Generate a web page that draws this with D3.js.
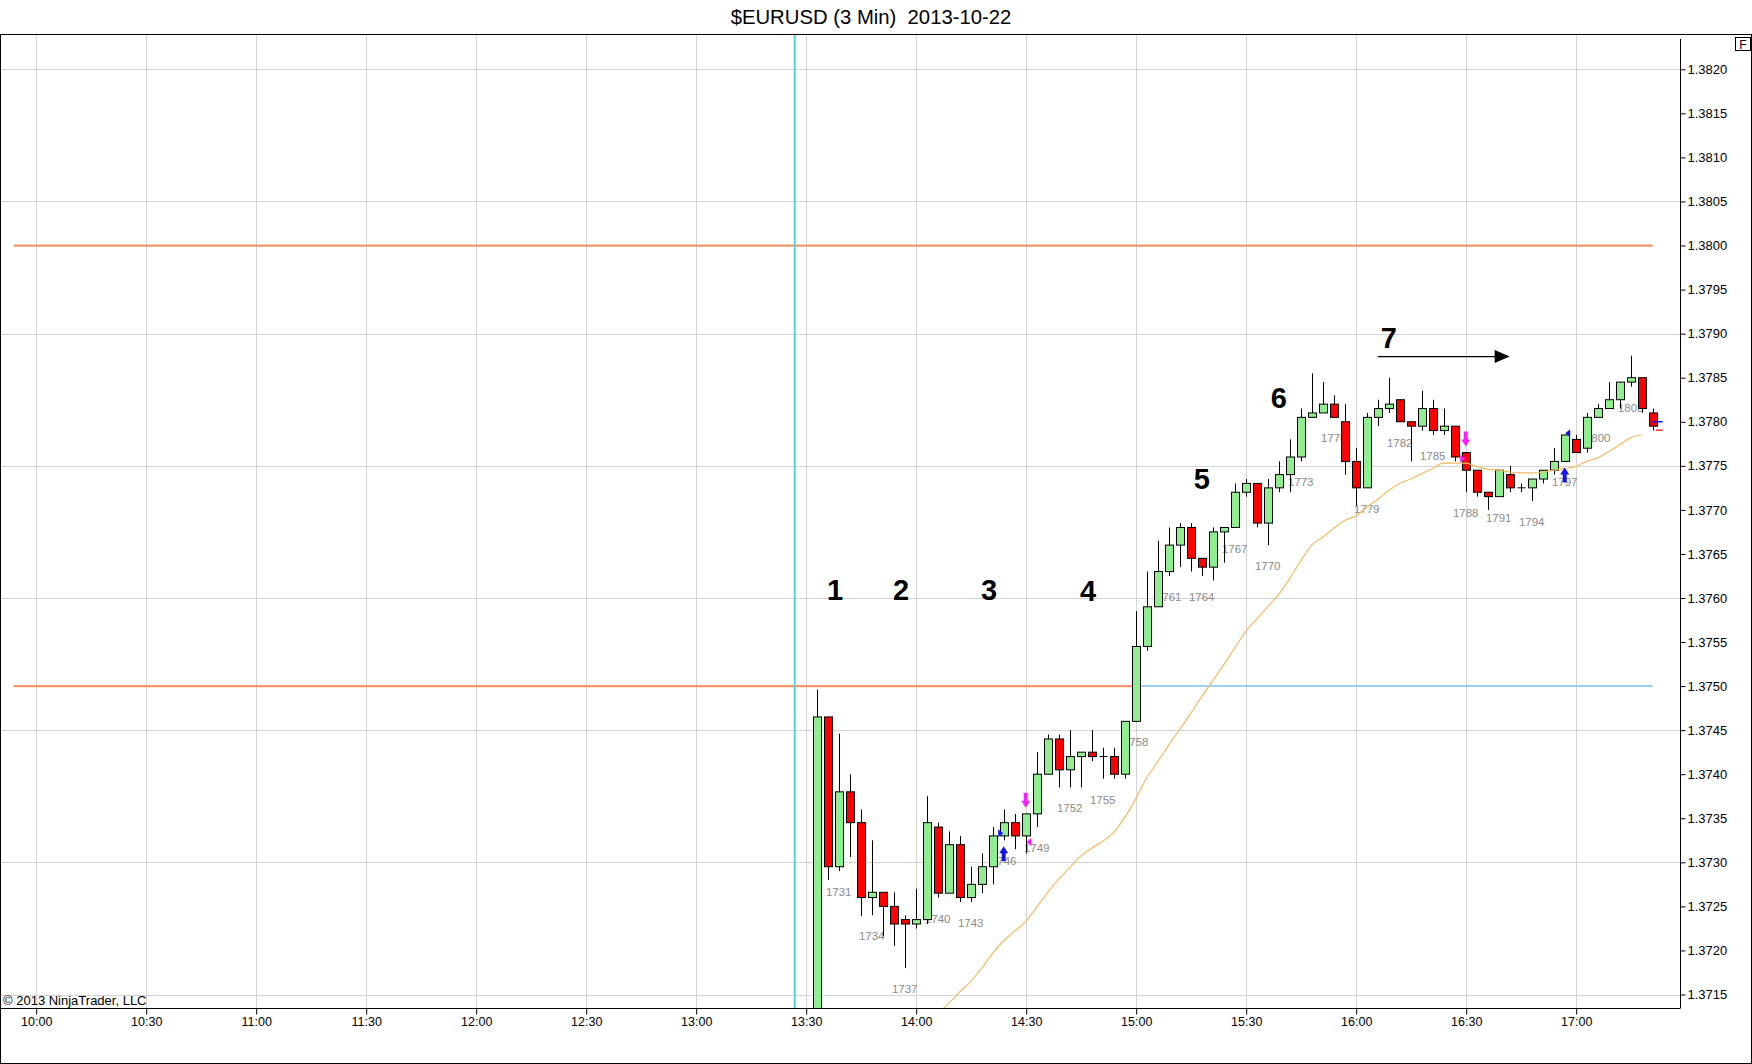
<!DOCTYPE html>
<html>
<head>
<meta charset="utf-8">
<script src="https://cdn.jsdelivr.net/npm/d3@7"></script>
<style>
  body { margin: 0; background: #fff; }
  svg { display: block; font-family: "Liberation Sans", Arial, sans-serif; }
</style>
</head>
<body>
<div class="chart"></div>
<script>
let width = 1752
let height = 1064

let bar_times = ['13:33','13:36','13:39','13:42','13:45','13:48','13:51','13:54','13:57','14:00',
                 '14:03','14:06','14:09','14:12','14:15','14:18','14:21','14:24','14:27','14:30',
                 '14:33','14:36','14:39','14:42','14:45','14:48','14:51','14:54','14:57','15:00',
                 '15:03','15:06','15:09','15:12','15:15','15:18','15:21','15:24','15:27','15:30',
                 '15:33','15:36','15:39','15:42','15:45','15:48','15:51','15:54','15:57','16:00',
                 '16:03','16:06','16:09','16:12','16:15','16:18','16:21','16:24','16:27','16:30',
                 '16:33','16:36','16:39','16:42','16:45','16:48','16:51','16:54','16:57','17:00',
                 '17:03','17:06','17:09','17:12','17:15','17:18','17:21']

let opens  = [1.37100,1.37465,1.37295,1.37380,1.37345,1.37260,1.37266,1.37250,1.37235,1.37230,
              1.37235,1.37340,1.37265,1.37320,1.37260,1.37275,1.37295,1.37330,1.37345,1.37330,
              1.37355,1.37400,1.37440,1.37405,1.37420,1.37425,1.37420,1.37420,1.37400,1.37460,
              1.37545,1.37590,1.37630,1.37660,1.37680,1.37645,1.37635,1.37675,1.37680,1.37720,
              1.37730,1.37685,1.37725,1.37740,1.37760,1.37805,1.37810,1.37820,1.37800,1.37755,
              1.37725,1.37805,1.37815,1.37825,1.37800,1.37795,1.37815,1.37790,1.37795,1.37765,
              1.37745,1.37720,1.37715,1.37740,1.37725,1.37725,1.37735,1.37745,1.37755,1.37780,
              1.37770,1.37805,1.37815,1.37825,1.37845,1.37850,1.37810]
let highs  = [1.37496,1.37465,1.37446,1.37400,1.37360,1.37325,1.37266,1.37266,1.37240,1.37270,
              1.37375,1.37345,1.37335,1.37330,1.37295,1.37310,1.37340,1.37360,1.37355,1.37355,
              1.37425,1.37445,1.37445,1.37450,1.37425,1.37450,1.37430,1.37430,1.37460,1.37585,
              1.37630,1.37665,1.37680,1.37685,1.37685,1.37645,1.37680,1.37680,1.37730,1.37735,
              1.37730,1.37735,1.37755,1.37780,1.37815,1.37855,1.37845,1.37830,1.37820,1.37770,
              1.37810,1.37825,1.37850,1.37825,1.37800,1.37835,1.37825,1.37815,1.37795,1.37765,
              1.37745,1.37720,1.37745,1.37750,1.37730,1.37735,1.37745,1.37770,1.37785,1.37785,
              1.37810,1.37820,1.37845,1.37845,1.37875,1.37850,1.37815]
let lows   = [1.37080,1.37280,1.37290,1.37306,1.37239,1.37240,1.37216,1.37205,1.37180,1.37225,
              1.37230,1.37260,1.37265,1.37255,1.37255,1.37265,1.37275,1.37325,1.37315,1.37310,
              1.37340,1.37400,1.37385,1.37385,1.37385,1.37415,1.37395,1.37395,1.37395,1.37460,
              1.37540,1.37590,1.37625,1.37635,1.37630,1.37625,1.37620,1.37640,1.37680,1.37715,
              1.37680,1.37660,1.37720,1.37720,1.37755,1.37805,1.37810,1.37805,1.37740,1.37705,
              1.37725,1.37795,1.37810,1.37800,1.37755,1.37790,1.37785,1.37785,1.37755,1.37720,
              1.37715,1.37700,1.37715,1.37720,1.37720,1.37710,1.37730,1.37740,1.37755,1.37765,
              1.37765,1.37805,1.37815,1.37815,1.37840,1.37810,1.37790]
let closes = [1.37465,1.37295,1.37380,1.37345,1.37260,1.37266,1.37250,1.37230,1.37230,1.37235,
              1.37345,1.37265,1.37320,1.37260,1.37275,1.37295,1.37330,1.37345,1.37330,1.37355,
              1.37400,1.37440,1.37405,1.37420,1.37425,1.37420,1.37420,1.37400,1.37460,1.37545,
              1.37590,1.37630,1.37660,1.37680,1.37645,1.37635,1.37675,1.37680,1.37720,1.37730,
              1.37685,1.37725,1.37740,1.37760,1.37805,1.37810,1.37820,1.37805,1.37755,1.37725,
              1.37805,1.37815,1.37820,1.37800,1.37795,1.37815,1.37790,1.37795,1.37760,1.37745,
              1.37720,1.37715,1.37745,1.37725,1.37725,1.37735,1.37745,1.37755,1.37785,1.37765,
              1.37805,1.37815,1.37825,1.37845,1.37850,1.37815,1.37795]

// moving average, one value per bar (null = not drawn)
let ema = [null,null,null,null,null,null,null,null,null,1.37103,
           1.37115,1.37128,1.37140,1.37153,1.37165,1.37180,1.37197,1.37211,1.37222,1.37233,
           1.37249,1.37266,1.37281,1.37294,1.37307,1.37316,1.37324,1.37334,1.37351,1.37372,
           1.37396,1.37414,1.37433,1.37451,1.37469,1.37488,1.37506,1.37524,1.37543,1.37562,
           1.37576,1.37590,1.37604,1.37622,1.37642,1.37660,1.37669,1.37679,1.37688,1.37693,
           1.37703,1.37712,1.37722,1.37730,1.37735,1.37741,1.37747,1.37753,1.37753,1.37753,
           1.37749,1.37746,1.37745,1.37743,1.37742,1.37742,1.37743,1.37745,1.37747,1.37749,
           1.37755,1.37759,1.37766,1.37774,1.37782,1.37785,null]

let bar_numbers = ['1731','1734','1737','1740','1743','1746','1749','1752','1755','1758','1761','1764','1767',
                   '1770','1773','1776','1779','1782','1785','1788','1791','1794','1797','1800','1803']
let bar_number_times = ['13:39','13:48','13:57','14:06','14:15','14:24','14:33','14:42','14:51','15:00','15:09','15:18','15:27',
                        '15:36','15:45','15:54','16:03','16:12','16:21','16:30','16:39','16:48','16:57','17:06','17:15']

let level_prices = [1.3800, 1.3750, 1.3750]
let level_from   = ['09:54', '09:54', '15:00']
let level_to     = ['17:21', '15:00', '17:21']
let level_colors = ['#f5966a', '#f5966a', '#7cc0f0']

let session_line_time = '13:27'

let note_labels = ['1', '2', '3', '4', '5', '6', '7']
let note_times  = ['13:38', '13:56', '14:20', '14:47', '15:18', '15:39', '16:09']
let note_prices = [1.37610, 1.37609, 1.37609, 1.37608, 1.37735, 1.37828, 1.37895]
let note_arrow  = {from: '16:06', to: '16:42', price: 1.37874}

let buy_arrow_times  = ['14:24', '16:57']
let sell_arrow_times = ['14:30', '16:30']
let fill_times  = ['14:24', '14:30', '16:30', '16:57']
let fill_prices = [1.37333, 1.37323, 1.37758, 1.37787]
let fill_dirs   = ['right', 'left', 'right', 'left']
let fill_colors = ['#1414f0', '#ff20ff', '#ff20ff', '#1414f0']

let bid_price = 1.37800
let ask_price = 1.37795

function toMin(s) {
    let [h, m] = s.split(':')
    return +h * 60 + +m
}

let plotLeft = 0, plotRight = 1680.5, plotTop = 34, plotBottom = 1008

let x = d3.scaleLinear()
    .domain([600, 1020])
    .range([35.7, 1575.7])

let y = d3.scaleLinear()
    .domain([1.3715, 1.3820])
    .range([994.5, 69.3])

let bars = bar_times.map((t, i) => ({t: toMin(t), o: opens[i], h: highs[i], l: lows[i], c: closes[i], ema: ema[i]}))
let barAt = new Map(bars.map(b => [b.t, b]))

let svg = d3.create("svg")
    .attr("width", width)
    .attr("height", height)
    .attr("viewBox", [0, 0, width, height])

svg.append("rect").attr("width", width).attr("height", height).attr("fill", "white")

svg.append("defs").append("clipPath").attr("id", "plot")
    .append("rect")
    .attr("x", plotLeft).attr("y", plotTop)
    .attr("width", plotRight - plotLeft).attr("height", plotBottom - plotTop)

// title
svg.append("text")
    .attr("x", 871)
    .attr("y", 23.5)
    .attr("text-anchor", "middle")
    .attr("font-size", 20.3)
    .style("white-space", "pre")
    .text("$EURUSD (3 Min)  2013-10-22")

let plot = svg.append("g").attr("clip-path", "url(#plot)")

// grid
let vgrid = d3.range(600, 1021, 30)
let hgrid = d3.range(0, 8).map(k => +(1.3820 - k * 0.0015).toFixed(4))

plot.append("g")
    .selectAll("line")
    .data(vgrid)
    .join("line")
    .attr("x1", d => Math.round(x(d)) + 0.5)
    .attr("x2", d => Math.round(x(d)) + 0.5)
    .attr("y1", plotTop)
    .attr("y2", plotBottom)
    .attr("stroke", "#d4d4d4")

plot.append("g")
    .selectAll("line")
    .data(hgrid)
    .join("line")
    .attr("x1", plotLeft)
    .attr("x2", plotRight)
    .attr("y1", d => Math.round(y(d)) + 0.5)
    .attr("y2", d => Math.round(y(d)) + 0.5)
    .attr("stroke", "#d4d4d4")

// price levels
plot.append("g")
    .selectAll("line")
    .data(level_prices)
    .join("line")
    .attr("x1", (d, i) => x(toMin(level_from[i])))
    .attr("x2", (d, i) => x(toMin(level_to[i])))
    .attr("y1", d => y(d))
    .attr("y2", d => y(d))
    .attr("stroke", (d, i) => level_colors[i])
    .attr("stroke-width", (d, i) => i == 2 ? 1.5 : 2.2)

// session start line
plot.append("line")
    .attr("x1", x(toMin(session_line_time)))
    .attr("x2", x(toMin(session_line_time)))
    .attr("y1", plotTop)
    .attr("y2", plotBottom)
    .attr("stroke", "#48d8e4")
    .attr("stroke-width", 2)

// bar numbers under lows
plot.append("g")
    .attr("font-size", 11.5)
    .attr("fill", "#8a8a8a")
    .attr("text-anchor", "middle")
    .selectAll("text")
    .data(bar_numbers)
    .join("text")
    .attr("x", (d, i) => x(toMin(bar_number_times[i])))
    .attr("y", (d, i) => y(barAt.get(toMin(bar_number_times[i])).l) + 21)
    .attr("dy", "0.35em")
    .text(d => d)

// candles
let candle = plot.append("g")
    .selectAll("g")
    .data(bars)
    .join("g")
    .attr("transform", d => `translate(${Math.round(x(d.t)) + 0.5},0)`)

candle.append("line")
    .attr("y1", d => y(d.h))
    .attr("y2", d => y(d.l))
    .attr("stroke", "black")

candle.filter(d => d.o != d.c).append("rect")
    .attr("x", -4)
    .attr("width", 8)
    .attr("y", d => y(Math.max(d.o, d.c)))
    .attr("height", d => Math.abs(y(d.o) - y(d.c)))
    .attr("fill", d => d.c > d.o ? "#90ee90" : "#ff0000")
    .attr("stroke", "black")

candle.filter(d => d.o == d.c).append("line")
    .attr("x1", -4)
    .attr("x2", 4)
    .attr("y1", d => y(d.c))
    .attr("y2", d => y(d.c))
    .attr("stroke", "black")

// moving average
plot.append("path")
    .datum(bars.filter(d => d.ema != null))
    .attr("fill", "none")
    .attr("stroke", "#f4bb62")
    .attr("stroke-width", 1.2)
    .attr("d", d3.line().x(d => x(d.t)).y(d => y(d.ema)).curve(d3.curveMonotoneX))

// signal arrows
let arrowShape = "M-2,0 L-2,-8 L-4.5,-8 L0,-15 L4.5,-8 L2,-8 L2,0 Z"

plot.append("g")
    .selectAll("path")
    .data(buy_arrow_times)
    .join("path")
    .attr("transform", d => `translate(${x(toMin(d))},${y(barAt.get(toMin(d)).l) + 21})`)
    .attr("d", arrowShape)
    .attr("fill", "#1414f0")

plot.append("g")
    .selectAll("path")
    .data(sell_arrow_times)
    .join("path")
    .attr("transform", d => `translate(${x(toMin(d))},${y(barAt.get(toMin(d)).h) - 21}) rotate(180)`)
    .attr("d", arrowShape)
    .attr("fill", "#ff20ff")

// fill markers
plot.append("g")
    .selectAll("path")
    .data(fill_prices)
    .join("path")
    .attr("transform", (d, i) => `translate(${x(toMin(fill_times[i])) + (fill_dirs[i] == 'right' ? -3 : 3)},${y(d)})`)
    .attr("d", (d, i) => fill_dirs[i] == 'right' ? "M-2.5,-4 L2.5,0 L-2.5,4 Z" : "M2.5,-4 L-2.5,0 L2.5,4 Z")
    .attr("fill", (d, i) => fill_colors[i])

// bid / ask ticks at last bar
let lastX = x(bars[bars.length - 1].t)
plot.append("line")
    .attr("x1", lastX - 1).attr("x2", lastX + 10)
    .attr("y1", y(bid_price)).attr("y2", y(bid_price))
    .attr("stroke", "#1414f0").attr("stroke-width", 1.3)
plot.append("line")
    .attr("x1", lastX + 3).attr("x2", lastX + 10)
    .attr("y1", y(ask_price) + 4).attr("y2", y(ask_price) + 4)
    .attr("stroke", "#ff0000").attr("stroke-width", 1.3)

// numbered notes
plot.append("g")
    .attr("font-size", 29)
    .attr("font-weight", "bold")
    .attr("text-anchor", "middle")
    .selectAll("text")
    .data(note_labels)
    .join("text")
    .attr("x", (d, i) => x(toMin(note_times[i])))
    .attr("y", (d, i) => y(note_prices[i]))
    .attr("dy", "0.36em")
    .text(d => d)

let ax1 = x(toMin(note_arrow.from)), ax2 = x(toMin(note_arrow.to)), ay = y(note_arrow.price)
plot.append("line")
    .attr("x1", ax1).attr("x2", ax2 - 12)
    .attr("y1", ay).attr("y2", ay)
    .attr("stroke", "black").attr("stroke-width", 1.2)
plot.append("path")
    .attr("d", `M${ax2 - 15},${ay - 6.5} L${ax2},${ay} L${ax2 - 15},${ay + 6.5} Z`)
    .attr("fill", "black")

svg.append("text")
    .attr("x", 3)
    .attr("y", 1004.5)
    .attr("font-size", 13)
    .text("© 2013 NinjaTrader, LLC")

// axes
let xAxis = d3.axisBottom(x)
    .tickValues(vgrid)
    .tickSize(6)
    .tickPadding(3)
    .tickFormat(m => `${Math.floor(m / 60)}:${String(m % 60).padStart(2, '0')}`)

let xg = svg.append("g")
    .attr("transform", `translate(0.5,${plotBottom + 0.5})`)
    .call(xAxis)
xg.select(".domain").remove()
xg.selectAll("text").attr("font-size", 12.5).attr("font-family", "Liberation Sans, Arial, sans-serif").attr("fill", "black")
xg.selectAll("line").attr("stroke", "black")

svg.append("line")
    .attr("x1", 0).attr("x2", plotRight)
    .attr("y1", plotBottom + 0.5).attr("y2", plotBottom + 0.5)
    .attr("stroke", "black")

let yAxis = d3.axisRight(y)
    .tickValues(d3.range(0, 22).map(k => +(1.3715 + k * 0.0005).toFixed(4)))
    .tickSize(5)
    .tickPadding(2)
    .tickFormat(d3.format(".4f"))

let yg = svg.append("g")
    .attr("transform", `translate(${plotRight},0)`)
    .call(yAxis)
yg.select(".domain").remove()
yg.selectAll("text").attr("font-size", 13).attr("font-family", "Liberation Sans, Arial, sans-serif").attr("fill", "black")
yg.selectAll("line").attr("stroke", "black")

svg.append("line")
    .attr("x1", plotRight).attr("x2", plotRight)
    .attr("y1", 39).attr("y2", plotBottom)
    .attr("stroke", "black")

// outer frame
svg.append("rect")
    .attr("x", 0.5).attr("y", plotTop + 0.5)
    .attr("width", width - 1).attr("height", height - plotTop - 1)
    .attr("fill", "none")
    .attr("stroke", "black")

svg.append("rect")
    .attr("x", 1735.5).attr("y", 37.5)
    .attr("width", 15).attr("height", 13)
    .attr("fill", "white")
    .attr("stroke", "black")
svg.append("text")
    .attr("x", 1743).attr("y", 48.5)
    .attr("text-anchor", "middle")
    .attr("font-size", 12)
    .text("F")

d3.select(".chart").node().append(svg.node())
</script>
</body>
</html>
